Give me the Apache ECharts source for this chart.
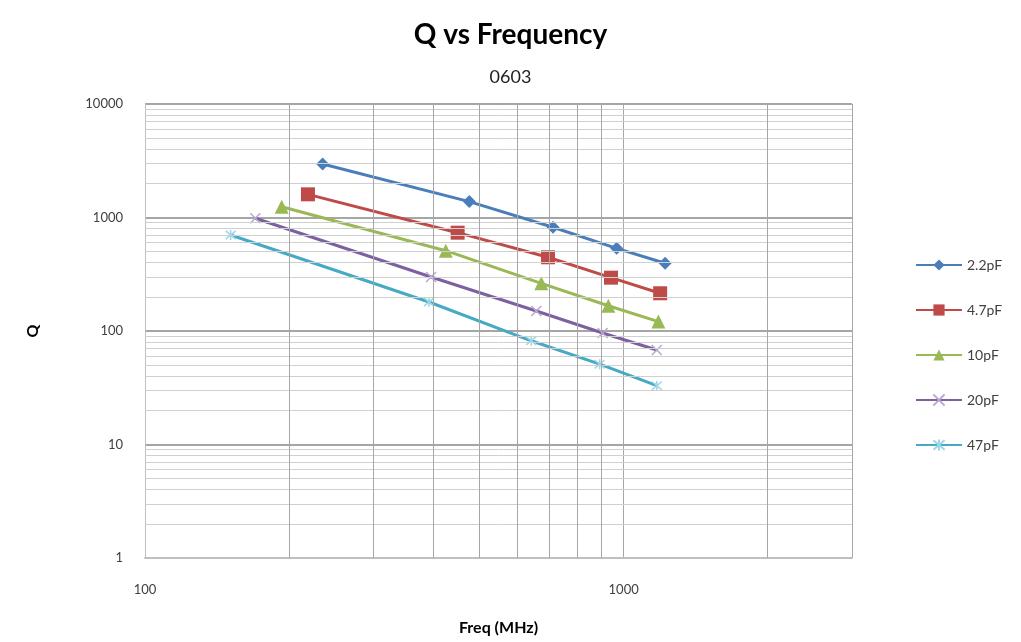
<!DOCTYPE html>
<html>
<head>
<meta charset="utf-8">
<script src="https://cdn.jsdelivr.net/npm/echarts@6/dist/echarts.min.js"></script>
<style>html,body{margin:0;padding:0;background:#fff}#c{width:1021px;height:642px}</style>
</head>
<body>
<div id="c"></div>
<script>
const seriesNames = ['2.2pF', '4.7pF', '10pF', '20pF', '47pF'];
const freq22 = [235, 476, 712, 967, 1221];
const q22 = [2960, 1380, 820, 535, 395];
const freq47 = [219, 450, 695, 941, 1192];
const q47 = [1600, 735, 446, 295, 215];
const freq10 = [193, 425, 673, 929, 1182];
const q10 = [1245, 510, 263, 167, 121];
const freq20 = [170, 396, 657, 904, 1173];
const q20 = [984, 299, 150, 96, 68];
const freq47pF = [151, 392, 641, 891, 1173];
const q47pF = [701, 180, 82, 51, 33];
const xTickLabels = [100, 1000];
const yTickLabels = [1, 10, 100, 1000, 10000];
const xMinorGrid = [200, 300, 400, 500, 600, 700, 800, 900, 2000];
const yMinorGrid = [2,3,4,5,6,7,8,9,20,30,40,50,60,70,80,90,200,300,400,500,600,700,800,900,2000,3000,4000,5000,6000,7000,8000,9000];

const colors = ['#4A7EBB', '#BE4B48', '#98B954', '#7D60A0', '#46AAC5'];
const font = 'Lato, "Open Sans", sans-serif';

function pairs(xs, ys) { return xs.map((x, i) => [x, ys[i]]); }

const xMark = 'path://M0,0L10,10M10,0L0,10';
const starMark = 'path://M0,0L10,10M10,0L0,10M5,-1L5,11';

const chart = echarts.init(document.getElementById('c'));
chart.setOption({
  animation: false,
  color: colors,
  title: [
    { text: 'Q vs Frequency', left: 'center', top: 16,
      textStyle: { fontFamily: font, fontWeight: 'bold', fontSize: 28, color: '#000' } },
    { text: '0603', left: 'center', top: 63,
      textStyle: { fontFamily: font, fontWeight: 'normal', fontSize: 18, color: '#222' } }
  ],
  grid: { left: 145, right: 169, top: 104, bottom: 84 },
  legend: {
    orient: 'vertical', left: 910, top: 253, itemWidth: 46, itemHeight: 14, itemGap: 31,
    textStyle: { fontFamily: font, fontSize: 14, color: '#404040' },
    data: seriesNames
  },
  xAxis: {
    type: 'log', logBase: 10, min: 100, max: 3000,
    name: 'Freq (MHz)', nameLocation: 'middle', nameGap: 62,
    nameTextStyle: { fontFamily: font, fontWeight: 'bold', fontSize: 16, color: '#000' },
    axisLine: { lineStyle: { color: '#BFBFBF', width: 2 } },
    axisTick: { show: false },
    axisLabel: { margin: 25, fontFamily: font, fontSize: 13, color: '#404040',
      formatter: v => xTickLabels.includes(Math.round(v)) ? String(Math.round(v)) : '' },
    splitLine: { show: true, lineStyle: { color: '#A6A6A6', width: 1 } }
  },
  yAxis: {
    type: 'log', logBase: 10, min: 1, max: 10000,
    name: 'Q', nameLocation: 'middle', nameGap: 104, nameRotate: 90,
    nameTextStyle: { fontFamily: font, fontWeight: 'bold', fontSize: 16, color: '#000' },
    axisLine: { show: true, lineStyle: { color: '#BFBFBF', width: 1 } },
    axisTick: { show: false },
    axisLabel: { margin: 22, fontFamily: font, fontSize: 13, color: '#404040',
      formatter: v => yTickLabels.includes(Math.round(v)) ? String(Math.round(v)) : '' },
    splitLine: { show: true, lineStyle: { color: '#A6A6A6', width: 2 } }
  },
  series: [
    { name: '__grid', type: 'line', data: [], silent: true,
      markLine: { silent: true, symbol: 'none', label: { show: false },
        lineStyle: { color: '#D0D0D0', type: 'solid', width: 1 },
        data: yMinorGrid.map(v => ({ yAxis: v })).concat(xMinorGrid.map(v => ({ xAxis: v, lineStyle: { color: '#A6A6A6' } }))) } },
    { name: seriesNames[0], type: 'line', data: pairs(freq22, q22), symbol: 'diamond', symbolSize: 13,
      lineStyle: { width: 3 }, itemStyle: { color: colors[0] } },
    { name: seriesNames[1], type: 'line', data: pairs(freq47, q47), symbol: 'rect', symbolSize: 14,
      lineStyle: { width: 3 }, itemStyle: { color: colors[1] } },
    { name: seriesNames[2], type: 'line', data: pairs(freq10, q10), symbol: 'triangle', symbolSize: 14,
      lineStyle: { width: 3 }, itemStyle: { color: colors[2] } },
    { name: seriesNames[3], type: 'line', data: pairs(freq20, q20), symbol: xMark, symbolSize: 10,
      lineStyle: { width: 3, color: colors[3] },
      itemStyle: { color: 'rgba(0,0,0,0)', borderColor: '#B9A7D0', borderWidth: 1.5 } },
    { name: seriesNames[4], type: 'line', data: pairs(freq47pF, q47pF), symbol: starMark, symbolSize: 10,
      lineStyle: { width: 3, color: colors[4] },
      itemStyle: { color: 'rgba(0,0,0,0)', borderColor: '#9ED6E6', borderWidth: 1.5 } }
  ]
});
</script>
</body>
</html>
